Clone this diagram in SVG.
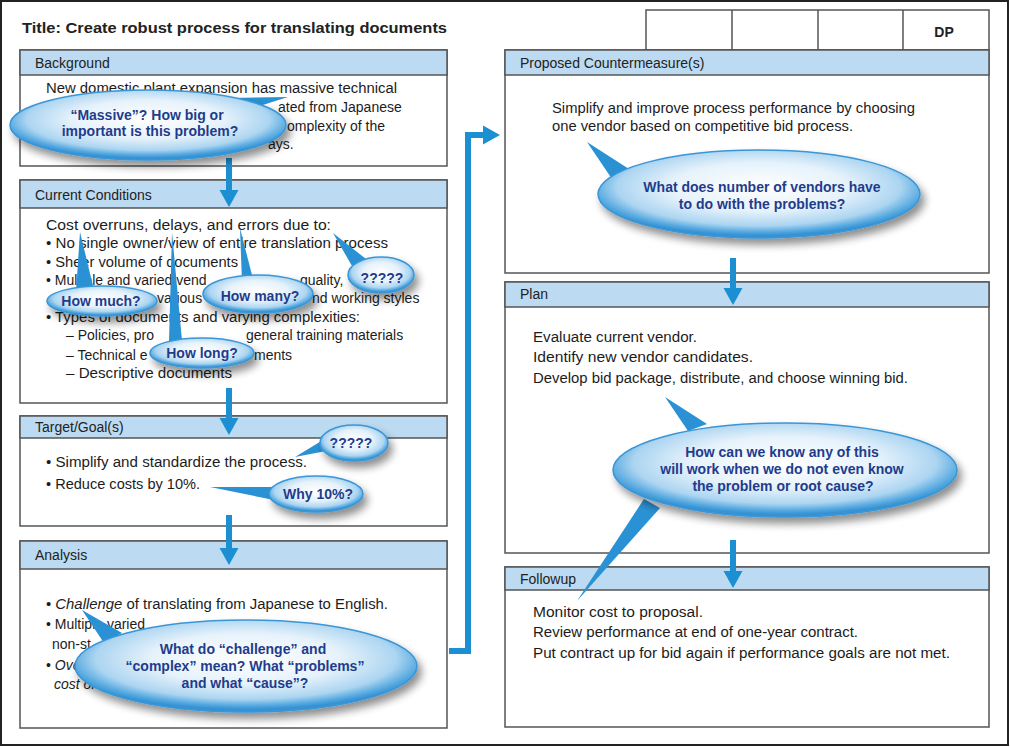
<svg xmlns="http://www.w3.org/2000/svg" width="1010" height="747" viewBox="0 0 1010 747">
<defs>
<style>
.box{fill:#ffffff;stroke:#555;stroke-width:1.5}
.hdr{fill:#bcdaf1;stroke:#555;stroke-width:1.5}
.ht{font-family:"Liberation Sans",Arial,sans-serif;font-size:14px;fill:#222}
.bt{font-family:"Liberation Sans",Arial,sans-serif;font-size:14px;fill:#1c1c1c}
.it{font-style:italic}
.ct{font-family:"Liberation Sans",Arial,sans-serif;font-size:14px;font-weight:bold;fill:#1f3c8c;text-anchor:middle}
.bub{fill:url(#bg);stroke:#3a96d6;stroke-width:1.5;filter:url(#sh)}
.tail{fill:#2a92d4}
.con{fill:none;stroke:#1b8fd2;stroke-width:6;marker-end:url(#ah)}
</style>
<radialGradient id="bg" cx="50%" cy="42%" r="55%">
<stop offset="0" stop-color="#ffffff"/>
<stop offset="0.5" stop-color="#e6f2fb"/>
<stop offset="0.8" stop-color="#acd5f1"/>
<stop offset="0.93" stop-color="#56a9e0"/>
<stop offset="1" stop-color="#3592d4"/>
</radialGradient>
<filter id="sh" x="-20%" y="-30%" width="150%" height="180%">
<feGaussianBlur in="SourceAlpha" stdDeviation="4"/>
<feOffset dx="4" dy="6" result="o"/>
<feComponentTransfer in="o" result="s"><feFuncA type="linear" slope="0.45"/></feComponentTransfer>
<feMerge><feMergeNode in="s"/><feMergeNode in="SourceGraphic"/></feMerge>
</filter>
<marker id="ah" markerUnits="userSpaceOnUse" markerWidth="18" markerHeight="20" refX="0" refY="10" orient="auto" viewBox="0 0 18 20">
<path d="M0,0.5 L17,10 L0,19.5 z" fill="#1b8fd2"/>
</marker>
</defs>
<rect x="0" y="0" width="1010" height="747" fill="#ffffff"/>
<rect x="1" y="1" width="1007" height="744" fill="none" stroke="#222" stroke-width="2"/>

<text class="ht" x="22" y="33" font-size="16" font-weight="bold" textLength="425" lengthAdjust="spacingAndGlyphs">Title: Create robust process for translating documents</text>

<g id="dp-table">
<rect x="646" y="10" width="343" height="40" class="box"/>
<line x1="732" y1="10" x2="732" y2="50" stroke="#555" stroke-width="1.5"/>
<line x1="818" y1="10" x2="818" y2="50" stroke="#555" stroke-width="1.5"/>
<line x1="903" y1="10" x2="903" y2="50" stroke="#555" stroke-width="1.5"/>
<text class="ht" x="944" y="37" font-size="15" font-weight="bold" text-anchor="middle">DP</text>
</g>

<g id="background">
<rect x="20" y="50" width="427" height="116" class="box"/>
<rect x="20" y="50" width="427" height="25" class="hdr"/>
<text class="ht" x="35" y="68">Background</text>
<text class="bt" x="46" y="93" textLength="351" lengthAdjust="spacingAndGlyphs">New domestic plant expansion has massive technical</text>
<text class="bt" x="278" y="112">ated from Japanese</text>
<text class="bt" x="287" y="131">omplexity of the</text>
<text class="bt" x="268" y="149">ays.</text>
</g>

<g id="current-conditions">
<rect x="20" y="180" width="427" height="223" class="box"/>
<rect x="20" y="180" width="427" height="28" class="hdr"/>
<text class="ht" x="35" y="200">Current Conditions</text>
<text class="bt" x="46" y="230" textLength="285" lengthAdjust="spacingAndGlyphs">Cost overruns, delays, and errors due to:</text>
<text class="bt" x="46" y="248" textLength="342" lengthAdjust="spacingAndGlyphs">• No single owner/view of entire translation process</text>
<text class="bt" x="46" y="267" textLength="192" lengthAdjust="spacingAndGlyphs">• Sheer volume of documents</text>
<text class="bt" x="46" y="285">• Multiple and varied vend</text>
<text class="bt" x="300" y="285">quality,</text>
<text class="bt" x="157" y="303">various</text>
<text class="bt" x="312" y="303">nd working styles</text>
<text class="bt" x="46" y="322" textLength="314" lengthAdjust="spacingAndGlyphs">• Types of documents and varying complexities:</text>
<text class="bt" x="66" y="340">– Policies, pro</text>
<text class="bt" x="246" y="340">general training materials</text>
<text class="bt" x="66" y="360">– Technical e</text>
<text class="bt" x="254" y="360">ments</text>
<text class="bt" x="66" y="378" textLength="166" lengthAdjust="spacingAndGlyphs">– Descriptive documents</text>
</g>

<g id="target-goals">
<rect x="20" y="416" width="427" height="110" class="box"/>
<rect x="20" y="416" width="427" height="22" class="hdr"/>
<text class="ht" x="35" y="432">Target/Goal(s)</text>
<text class="bt" x="46" y="467" textLength="261" lengthAdjust="spacingAndGlyphs">• Simplify and standardize the process.</text>
<text class="bt" x="46" y="489" textLength="154" lengthAdjust="spacingAndGlyphs">• Reduce costs by 10%.</text>
</g>

<g id="analysis">
<rect x="20" y="541" width="427" height="187" class="box"/>
<rect x="20" y="541" width="427" height="28" class="hdr"/>
<text class="ht" x="35" y="560">Analysis</text>
<text class="bt" x="46" y="609" textLength="342" lengthAdjust="spacingAndGlyphs">• <tspan class="it">Challenge</tspan> of translating from Japanese to English.</text>
<text class="bt" x="46" y="629">• Multiple varied</text>
<text class="bt" x="52" y="649">non-st</text>
<text class="bt" x="46" y="670">• <tspan class="it">Over</tspan></text>
<text class="bt it" x="54" y="689">cost of</text>
</g>

<g id="countermeasures">
<rect x="505" y="50" width="484" height="223" class="box"/>
<rect x="505" y="50" width="484" height="25" class="hdr"/>
<text class="ht" x="520" y="68">Proposed Countermeasure(s)</text>
<text class="bt" x="552" y="113" textLength="363" lengthAdjust="spacingAndGlyphs">Simplify and improve process performance by choosing</text>
<text class="bt" x="552" y="131" textLength="301" lengthAdjust="spacingAndGlyphs">one vendor based on competitive bid process.</text>
</g>

<g id="plan">
<rect x="505" y="282" width="484" height="271" class="box"/>
<rect x="505" y="282" width="484" height="25" class="hdr"/>
<text class="ht" x="520" y="299">Plan</text>
<text class="bt" x="533" y="342" textLength="164" lengthAdjust="spacingAndGlyphs">Evaluate current vendor.</text>
<text class="bt" x="533" y="362" textLength="220" lengthAdjust="spacingAndGlyphs">Identify new vendor candidates.</text>
<text class="bt" x="533" y="383" textLength="375" lengthAdjust="spacingAndGlyphs">Develop bid package, distribute, and choose winning bid.</text>
</g>

<g id="followup">
<rect x="505" y="567" width="484" height="160" class="box"/>
<rect x="505" y="567" width="484" height="23" class="hdr"/>
<text class="ht" x="520" y="584">Followup</text>
<text class="bt" x="533" y="617" textLength="170" lengthAdjust="spacingAndGlyphs">Monitor cost to proposal.</text>
<text class="bt" x="533" y="637" textLength="325" lengthAdjust="spacingAndGlyphs">Review performance at end of one-year contract.</text>
<text class="bt" x="533" y="658" textLength="417" lengthAdjust="spacingAndGlyphs">Put contract up for bid again if performance goals are not met.</text>
</g>

<g id="connectors">
<path class="con" d="M229,158 V190"/>
<path class="con" d="M229,388 V418"/>
<path class="con" d="M229,515 V548"/>
<path class="con" d="M733,258 V288"/>
<path class="con" d="M733,540 V571"/>
<path class="con" d="M449,651 H468 V135 H483"/>
</g>

<g id="callout-massive">
<polygon class="tail" points="288,97 232,98 240,112"/>
<ellipse class="bub" cx="148" cy="125" rx="138" ry="35"/>
<text class="ct" x="147" y="120">“Massive”? How big or</text>
<text class="ct" x="150" y="136">important is this problem?</text>
</g>

<g id="callout-how-much">
<polygon class="tail" points="80,232 76,292 94,290"/>
<ellipse class="bub" cx="102" cy="301" rx="55" ry="15"/>
<text class="ct" x="101" y="306">How much?</text>
</g>

<g id="callout-how-many">
<polygon class="tail" points="240,228 242,282 253,279"/>
<ellipse class="bub" cx="258" cy="294" rx="55" ry="19"/>
<text class="ct" x="260" y="301">How many?</text>
</g>

<g id="callout-q1">
<polygon class="tail" points="333,233 352,266 366,259"/>
<ellipse class="bub" cx="381" cy="275" rx="33" ry="18"/>
<text class="ct" x="382" y="283">?????</text>
</g>

<g id="callout-how-long">
<polygon class="tail" points="172,232 169,342 182,341"/>
<ellipse class="bub" cx="202" cy="353" rx="52" ry="15"/>
<text class="ct" x="202" y="358">How long?</text>
</g>

<g id="callout-q2">
<polygon class="tail" points="295,457 323,440 326,451"/>
<ellipse class="bub" cx="354" cy="443" rx="34" ry="18"/>
<text class="ct" x="351" y="448">?????</text>
</g>

<g id="callout-why">
<polygon class="tail" points="210,487 274,487 274,500"/>
<ellipse class="bub" cx="316" cy="494" rx="47" ry="18"/>
<text class="ct" x="318" y="499">Why 10%?</text>
</g>

<g id="callout-analysis">
<polygon class="tail" points="82,610 104,643 122,633"/>
<ellipse class="bub" cx="246" cy="666" rx="171" ry="46"/>
<text class="ct" x="243" y="654">What do “challenge” and</text>
<text class="ct" x="245" y="671">“complex” mean? What “problems”</text>
<text class="ct" x="245" y="688">and what “cause”?</text>
</g>

<g id="callout-vendors">
<polygon class="tail" points="587,142 612,179 629,169"/>
<ellipse class="bub" cx="759" cy="194" rx="161" ry="44"/>
<text class="ct" x="762" y="192">What does number of vendors have</text>
<text class="ct" x="762" y="209">to do with the problems?</text>
</g>

<g id="callout-plan">
<polygon class="tail" points="665,397 688,431 707,424"/>
<polygon class="tail" points="644,499 660,508 577,601"/>
<ellipse class="bub" cx="785" cy="470" rx="172" ry="47"/>
<text class="ct" x="782" y="457">How can we know any of this</text>
<text class="ct" x="782" y="474">will work when we do not even know</text>
<text class="ct" x="783" y="491">the problem or root cause?</text>
</g>
</svg>
